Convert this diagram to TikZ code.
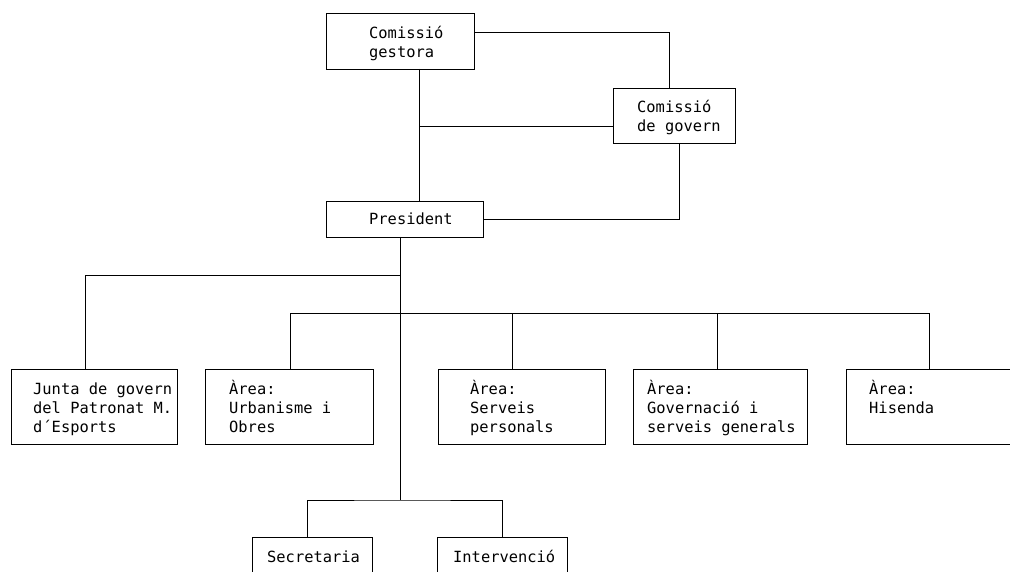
\documentclass[tikz,border=0pt]{standalone}
\usepackage{fontspec}
\newfontfamily\boxfont{DejaVu Sans Mono}
\tikzset{
  unit/.style={draw, line width=0.8pt, inner sep=0pt, outer sep=0pt},
  lbl/.style={font=\boxfont\fontsize{15.4pt}{19pt}\selectfont, align=left, anchor=base west, inner sep=0pt},
  link/.style={line width=0.8pt}
}
\begin{document}
\begin{tikzpicture}[x=1pt, y=-1pt]
    \useasboundingbox (0,0) rectangle (1010,572);
    \clip (0,0) rectangle (1010,572);

    % governing bodies (text placed at baseline of last line)
    \node[unit, minimum width=148pt, minimum height=56pt] (gestora) at (400,41) {};
    \node[lbl] (gestoraTxt) at (369,58) {Comissió\\gestora};
    \node[unit, minimum width=122pt, minimum height=55pt] (govern) at (674,115.5) {};
    \node[lbl] (governTxt) at (637,132) {Comissió\\de govern};
    \node[unit, minimum width=157pt, minimum height=36pt] (president) at (404.5,219) {};
    \node[lbl] (presidentTxt) at (369,225) {President};

    % areas
    \node[unit, minimum width=166pt, minimum height=75pt] (junta) at (94,406.5) {};
    \node[lbl] (juntaTxt) at (33,432) {Junta de govern\\del Patronat M.\\d´Esports};
    \node[unit, minimum width=168pt, minimum height=75pt] (urb) at (289,406.5) {};
    \node[lbl] (urbTxt) at (229,432) {Àrea:\\Urbanisme i\\Obres};
    \node[unit, minimum width=167pt, minimum height=75pt] (serv) at (521.5,406.5) {};
    \node[lbl] (servTxt) at (470,432) {Àrea:\\Serveis\\personals};
    \node[unit, minimum width=174pt, minimum height=75pt] (gov) at (720,406.5) {};
    \node[lbl] (govTxt) at (647,432) {Àrea:\\Governació i\\serveis generals};
    \node[unit, minimum width=166pt, minimum height=75pt] (his) at (929,406.5) {};
    \node[lbl] (hisTxt) at (869,413) {Àrea:\\Hisenda};

    % services
    \node[unit, minimum width=120pt, minimum height=63pt] (secr) at (312,568.5) {};
    \node[lbl] (secrTxt) at (267,562) {Secretaria};
    \node[unit, minimum width=130pt, minimum height=63pt] (interv) at (502,568.5) {};
    \node[lbl] (intervTxt) at (453,562) {Intervenció};

    \coordinate (tee) at (419,126);
    \coordinate (split) at (400,500);
    \coordinate (armL) at (400,275);

    % connectors
    \draw[link] (gestora.east |- 0,32) -| (govern.north -| 669,0);
    \draw[link] (gestora.south -| tee) -- (president.north -| tee);
    \draw[link] (govern.west |- tee) -- (tee);
    \draw[link] (govern.south -| 679,0) |- (president.east);
    \draw[link] (president.south -| split) -- (split);
    \draw[link] (armL) -| (junta.north -| 85,0);
    \draw[link] (urb.north -| 290,0) |- (his.north |- 0,313) -- (929,313) -- (his.north -| 929,0);
    \draw[link] (serv.north -| 512,0) -- (512,313);
    \draw[link] (gov.north -| 717,0) -- (717,313);
    \draw[link] (secr.north -| 307,0) |- (split) -| (interv.north);

\end{tikzpicture}
\end{document}
